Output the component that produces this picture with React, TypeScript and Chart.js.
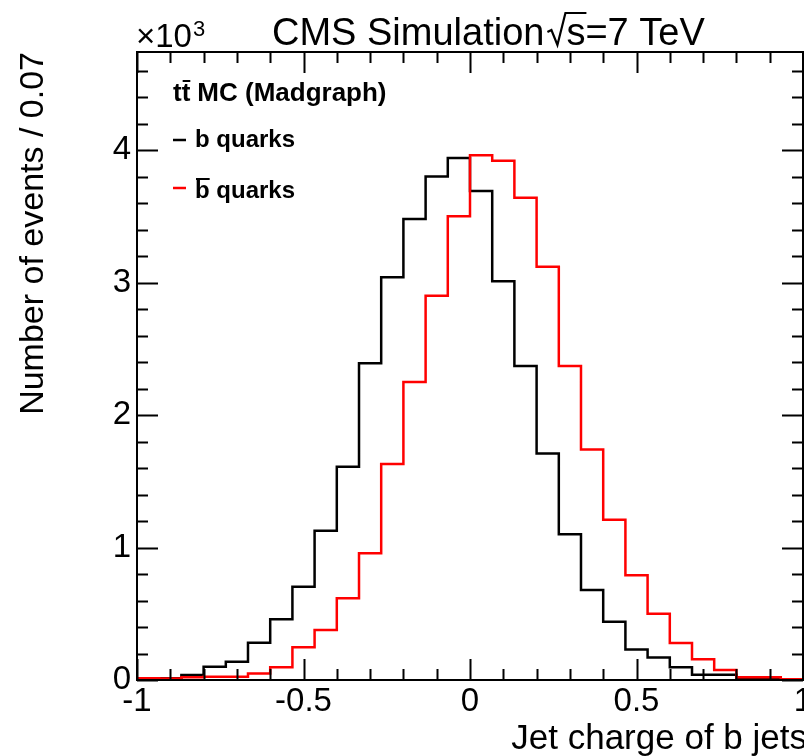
import React, { useEffect, useRef } from "react";
import { Chart, registerables } from "chart.js";

Chart.register(...registerables);

// Histogram bin edges (30 bins between -1 and 1)
const binEdges = [
  -1, -0.9333, -0.8667, -0.8, -0.7333, -0.6667, -0.6, -0.5333, -0.4667, -0.4,
  -0.3333, -0.2667, -0.2, -0.1333, -0.0667, 0, 0.0667, 0.1333, 0.2, 0.2667,
  0.3333, 0.4, 0.4667, 0.5333, 0.6, 0.6667, 0.7333, 0.8, 0.8667, 0.9333, 1,
];

// Number of events per bin, in units of 10^3
const bQuarks = [
  0.008, 0.013, 0.038, 0.1, 0.138, 0.282, 0.458, 0.704, 1.127, 1.61,
  2.39, 3.04, 3.48, 3.8, 3.94, 3.69, 3.01, 2.37, 1.71, 1.1,
  0.68, 0.44, 0.23, 0.17, 0.096, 0.04, 0.04, 0.013, 0.01, 0.005,
];
const bbarQuarks = [
  0.013, 0.012, 0.02, 0.025, 0.025, 0.05, 0.096, 0.247, 0.377, 0.617,
  0.956, 1.63, 2.25, 2.9, 3.5, 3.96, 3.92, 3.64, 3.12, 2.37,
  1.74, 1.21, 0.79, 0.5, 0.28, 0.156, 0.075, 0.02, 0.02, 0.005,
];

const xTickValues = [-1, -0.5, 0, 0.5, 1];
const xTickLabels = ["-1", "-0.5", "0", "0.5", "1"];
const yTickValues = [0, 1, 2, 3, 4];
const yTickLabels = ["0", "1", "2", "3", "4"];

const titleMain = "CMS Simulation";
const titleEnergy = "s=7 TeV";
const yTitle = "Number of events / 0.07";
const xTitle = "Jet charge of b jets";
const legendHeader = "MC (Madgraph)";
const legendB = "b quarks";
const legendBbar = "b quarks";

const FONT = '"Liberation Sans", Arial, Helvetica, sans-serif';
const RED = "rgb(255,0,0)";

function histPoints(values: number[]) {
  const pts = values.map((v, i) => ({ x: binEdges[i], y: v }));
  pts.push({ x: binEdges[binEdges.length - 1], y: values[values.length - 1] });
  return pts;
}

const rootPlugin = {
  id: "rootStyle",
  afterDraw(chart: any) {
    const ctx: CanvasRenderingContext2D = chart.ctx;
    const { left, right, top, bottom } = chart.chartArea;
    const xs = chart.scales.x;
    const ys = chart.scales.y;
    ctx.save();
    ctx.strokeStyle = "#000";
    ctx.lineWidth = 2;
    ctx.lineCap = "butt";
    ctx.strokeRect(left, top, right - left, bottom - top);

    // x ticks (inward, bottom and top)
    for (let i = 0; i <= 20; i++) {
      const v = -1 + i * 0.1;
      const px = Math.round(xs.getPixelForValue(v)) + 0.5;
      const len = i % 5 === 0 ? 21 : 11;
      ctx.beginPath();
      ctx.moveTo(px, bottom);
      ctx.lineTo(px, bottom - len);
      ctx.moveTo(px, top);
      ctx.lineTo(px, top + len);
      ctx.stroke();
    }
    // y ticks (inward, left and right)
    for (let i = 0; i <= 23; i++) {
      const v = i * 0.2;
      if (v > ys.max) break;
      const py = Math.round(ys.getPixelForValue(v)) + 0.5;
      const len = i % 5 === 0 ? 21 : 11;
      ctx.beginPath();
      ctx.moveTo(left, py);
      ctx.lineTo(left + len, py);
      ctx.moveTo(right, py);
      ctx.lineTo(right - len, py);
      ctx.stroke();
    }

    ctx.fillStyle = "#000";
    ctx.textBaseline = "alphabetic";

    // x10^3
    ctx.textAlign = "left";
    ctx.font = `33px ${FONT}`;
    ctx.fillText("\u00d710", left - 1, 47);
    const w10 = ctx.measureText("\u00d710").width;
    ctx.font = `22px ${FONT}`;
    ctx.fillText("3", left - 1 + w10 + 1, 36);

    // Title
    ctx.font = `38px ${FONT}`;
    const tx = 272;
    const tBase = 45;
    ctx.fillText(titleMain, tx, tBase);
    const wMain = ctx.measureText(titleMain).width;
    const rx = tx + wMain + 3;
    // radical sign
    ctx.lineWidth = 2.2;
    ctx.beginPath();
    ctx.moveTo(rx, tBase - 13);
    ctx.lineTo(rx + 4, tBase - 15);
    ctx.lineTo(rx + 10, tBase);
    ctx.lineTo(rx + 18, tBase - 32);
    const sx = rx + 19;
    const ws = ctx.measureText("s").width;
    ctx.lineTo(sx + ws + 1, tBase - 32);
    ctx.stroke();
    ctx.fillText(titleEnergy, sx, tBase);

    // Y axis title
    ctx.save();
    ctx.translate(43, top);
    ctx.rotate(-Math.PI / 2);
    ctx.font = `34px ${FONT}`;
    ctx.textAlign = "right";
    ctx.fillText(yTitle, 0, 0);
    ctx.restore();

    // X axis title
    ctx.font = `35px ${FONT}`;
    ctx.textAlign = "right";
    ctx.fillText(xTitle, 807, 749);

    // Legend
    ctx.textAlign = "left";
    ctx.font = `bold 26px ${FONT}`;
    const lx = 173;
    const wt = ctx.measureText("t").width;
    ctx.fillText("tt", lx, 101);
    ctx.lineWidth = 2;
    ctx.beginPath();
    ctx.moveTo(lx + wt + 1, 81);
    ctx.lineTo(lx + 2 * wt, 81);
    ctx.stroke();
    ctx.fillText(legendHeader, lx + 2 * wt + 7, 101);

    ctx.font = `bold 24px ${FONT}`;
    ctx.lineWidth = 2.5;
    ctx.strokeStyle = "#000";
    ctx.beginPath();
    ctx.moveTo(lx, 140);
    ctx.lineTo(lx + 13, 140);
    ctx.stroke();
    ctx.fillText(legendB, 195, 147);

    ctx.strokeStyle = RED;
    ctx.beginPath();
    ctx.moveTo(lx, 188);
    ctx.lineTo(lx + 13, 188);
    ctx.stroke();
    ctx.fillText(legendBbar, 195, 198);
    const wb = ctx.measureText("b").width;
    ctx.strokeStyle = "#000";
    ctx.lineWidth = 2;
    ctx.beginPath();
    ctx.moveTo(196, 179);
    ctx.lineTo(195 + wb, 179);
    ctx.stroke();

    ctx.restore();
  },
};

export default function App() {
  const canvasRef = useRef<HTMLCanvasElement | null>(null);

  useEffect(() => {
    const canvas = canvasRef.current;
    if (!canvas) return;
    const chart = new Chart(canvas, {
      type: "line",
      data: {
        datasets: [
          {
            label: "bbar quarks",
            data: histPoints(bbarQuarks),
            borderColor: RED,
            borderWidth: 2.5,
            stepped: "before",
            pointRadius: 0,
            fill: false,
            borderJoinStyle: "miter",
            order: 0,
          },
          {
            label: "b quarks",
            data: histPoints(bQuarks),
            borderColor: "#000",
            borderWidth: 2.5,
            stepped: "before",
            pointRadius: 0,
            fill: false,
            borderJoinStyle: "miter",
            order: 1,
          },
        ],
      },
      options: {
        responsive: false,
        animation: false,
        devicePixelRatio: 1,
        layout: { padding: { top: 52, right: 1, left: 0, bottom: 0 } },
        plugins: {
          legend: { display: false },
          tooltip: { enabled: false },
          title: { display: false },
        },
        scales: {
          x: {
            type: "linear",
            min: -1,
            max: 1,
            grid: { display: false, drawTicks: false },
            border: { display: false },
            ticks: {
              stepSize: 0.5,
              includeBounds: false,
              autoSkip: false,
              maxRotation: 0,
              padding: 2,
              color: "#000",
              font: { family: FONT, size: 33 },
              callback: (v: any) => {
                const idx = xTickValues.findIndex((t) => Math.abs(t - v) < 1e-6);
                return idx >= 0 ? xTickLabels[idx] : "";
              },
            },
            afterFit: (s: any) => {
              s.height = 76;
              s.paddingLeft = 0;
              s.paddingRight = 0;
            },
          },
          y: {
            type: "linear",
            min: 0,
            max: 4.74,
            grid: { display: false, drawTicks: false },
            border: { display: false },
            ticks: {
              stepSize: 1,
              includeBounds: false,
              autoSkip: false,
              padding: 6,
              color: "#000",
              font: { family: FONT, size: 33 },
              callback: (v: any) => {
                const idx = yTickValues.findIndex((t) => Math.abs(t - v) < 1e-6);
                return idx >= 0 ? yTickLabels[idx] : "";
              },
            },
            afterFit: (s: any) => {
              s.width = 137;
              s.paddingTop = 0;
              s.paddingBottom = 0;
            },
          },
        },
      },
      plugins: [rootPlugin],
    } as any);
    return () => chart.destroy();
  }, []);

  return (
    <div style={{ position: "fixed", left: 0, top: 0, width: 804, height: 756, background: "#fff" }}>
      <canvas ref={canvasRef} width={804} height={756} style={{ display: "block", width: 804, height: 756 }} />
    </div>
  );
}
